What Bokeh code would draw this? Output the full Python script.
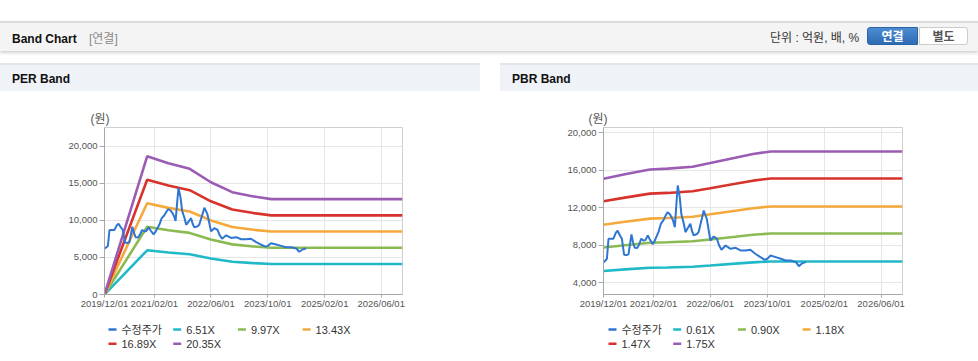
from datetime import datetime
from bokeh.plotting import figure
from bokeh.models import (FixedTicker, DatetimeTickFormatter, NumeralTickFormatter,
                          Title, Div, Range1d, Spacer)
from bokeh.core.properties import value
from bokeh.layouts import column, row
from bokeh.embed import file_html
from bokeh.resources import INLINE

# ---------------- data ----------------
X_TICK_LABELS = ["2019/12/01", "2021/02/01", "2022/06/01", "2023/10/01", "2025/02/01", "2026/06/01"]
X_START = "2019/12/01"
X_END = "2026/12/01"

PRICE_DATES = [
    "2019-12-02", "2019-12-16", "2019-12-30", "2020-01-13", "2020-01-27", "2020-02-24",
    "2020-03-16", "2020-03-30", "2020-04-20", "2020-05-06", "2020-05-25", "2020-06-15",
    "2020-07-02", "2020-07-27", "2020-08-10", "2020-08-24", "2020-09-14", "2020-09-28",
    "2020-10-19", "2020-11-09", "2020-11-23", "2020-12-14", "2020-12-28", "2021-01-25",
    "2021-02-08", "2021-03-01", "2021-03-15", "2021-04-05", "2021-04-26", "2021-05-17",
    "2021-06-01", "2021-06-21", "2021-07-05", "2021-07-19", "2021-08-02", "2021-08-16",
    "2021-08-27", "2021-09-13", "2021-09-27", "2021-10-18", "2021-11-01", "2021-11-15",
    "2021-12-13", "2021-12-27", "2022-01-10", "2022-02-07", "2022-02-21", "2022-03-14",
    "2022-04-06", "2022-05-02", "2022-05-16", "2022-06-02", "2022-07-01", "2022-07-28",
    "2022-08-15", "2022-09-05", "2022-10-10", "2022-11-21", "2023-01-04", "2023-02-15",
    "2023-03-29", "2023-05-10", "2023-06-21", "2023-08-04", "2023-09-11", "2023-10-02",
    "2023-10-30", "2023-12-13", "2024-01-25", "2024-03-07", "2024-04-19", "2024-06-03",
    "2024-06-28", "2024-07-29", "2024-08-26",
]
PRICE = [
    6200, 6350, 6560, 8700, 8690, 8700,
    9350, 9550, 9050, 8700, 7000, 6950,
    7050, 9150, 8300, 7730, 7700, 8000,
    8700, 8500, 8550, 9050, 8700, 8100,
    8400, 9000, 9400, 10300, 10650, 11200,
    11530, 11300, 11000, 10600, 9930, 12500,
    14380, 13130, 11300, 10290, 9400, 9700,
    10290, 9500, 9050, 9200, 9400, 10470,
    11710, 10830, 9800, 8510, 8940, 8700,
    8000, 7520, 7980, 7620, 7730, 7450,
    7450, 7520, 7100, 6740, 6450, 6560,
    6910, 6740, 6560, 6380, 6380, 6200,
    5770, 6100, 6200,
]

EPS_DATES = ["2019-12-01", "2020-12-01", "2021-06-01", "2021-12-01", "2022-06-01",
             "2022-12-01", "2023-06-01", "2023-11-01", "2026-12-01"]
EPS = [0, 916, 870, 833, 744, 678, 650, 632, 632]
PER_MULTIPLES = [6.51, 9.97, 13.43, 16.89, 20.35]
PER_LABELS = ["6.51X", "9.97X", "13.43X", "16.89X", "20.35X"]
PER_Y_TICKS = [0, 5000, 10000, 15000, 20000]
PER_Y_RANGE = (0, 22520)

BPS_DATES = ["2019-12-01", "2020-06-01", "2021-01-01", "2021-06-01", "2022-01-01",
             "2022-06-01", "2023-01-01", "2023-06-01", "2023-11-01", "2026-12-01"]
BPS = [8630, 8900, 9190, 9240, 9360, 9580, 9900, 10130, 10290, 10290]
PBR_MULTIPLES = [0.61, 0.90, 1.18, 1.47, 1.75]
PBR_LABELS = ["0.61X", "0.90X", "1.18X", "1.47X", "1.75X"]
PBR_Y_TICKS = [4000, 8000, 12000, 16000, 20000]
PBR_Y_RANGE = (2750, 20560)

PRICE_LABEL = "수정주가"
UNIT_LABEL = "(원)"
PRICE_COLOR = "#2f76d2"
BAND_COLORS = ["#20b9c8", "#8cba52", "#f6a93b", "#d7322b", "#9b5cb4"]

FONT = "Liberation Sans, Noto Sans CJK KR, sans-serif"
EPOCH = datetime(1970, 1, 1)

# legend layout (pixels inside the legend strip, measured from the panel's left edge)
LEG_NCOLS = 4
LEG_X0, LEG_PITCH_X = 108, 64.7
LEG_Y0, LEG_PITCH_Y = 15, 14.3
LEG_GLYPH_W, LEG_STANDOFF = 8, 5
STRIP_H = 47


def d(s):
    return datetime.strptime(s.replace("/", "-"), "%Y-%m-%d")


def ms(s):
    return (d(s) - EPOCH).total_seconds() * 1000.0


def make_chart(width, border_left, border_right, base_dates, base, multiples, labels,
               y_ticks, y_range, unit_off):
    title = Title(text=UNIT_LABEL, align="left", offset=unit_off, standoff=4,
                  text_font=FONT, text_font_size="12px", text_font_style="normal",
                  text_color="#555555")
    p = figure(width=width, height=270 - STRIP_H, x_axis_type="datetime",
               output_backend="svg", toolbar_location=None, title=title,
               x_range=Range1d(d(X_START), d(X_END)),
               y_range=Range1d(*y_range),
               min_border_left=border_left, min_border_right=border_right,
               min_border_top=36, min_border_bottom=20)
    p.background_fill_color = "white"
    p.border_fill_color = "white"
    p.outline_line_color = "#cfcfcf"
    p.outline_line_width = 1

    for ax in (p.xaxis, p.yaxis):
        ax.axis_line_color = "#a8a8a8"
        ax.major_tick_line_color = "#a8a8a8"
        ax.minor_tick_line_color = None
        ax.major_tick_in = 0
        ax.major_tick_out = 5
        ax.major_label_text_font = FONT
        ax.major_label_text_font_size = "9.5px"
        ax.major_label_text_color = "#555555"
        ax.major_label_standoff = 2
    p.xaxis.ticker = FixedTicker(ticks=[ms(t) for t in X_TICK_LABELS])
    fmt = "%Y/%m/%d"
    p.xaxis.formatter = DatetimeTickFormatter(
        microseconds=fmt, milliseconds=fmt, seconds=fmt, minsec=fmt, minutes=fmt,
        hourmin=fmt, hours=fmt, days=fmt, months=fmt, years=fmt)
    p.xaxis.major_tick_out = 3
    p.xaxis.major_label_standoff = 0
    p.yaxis.ticker = FixedTicker(ticks=y_ticks)
    p.yaxis.formatter = NumeralTickFormatter(format="0,0")

    p.xgrid.grid_line_color = "#e6e6e6"
    p.ygrid.grid_line_color = "#e6e6e6"

    xs = [d(s) for s in base_dates]
    for m, col in zip(multiples, BAND_COLORS):
        p.line(xs, [m * b for b in base], line_color=col, line_width=2.6)
    p.line([d(s) for s in PRICE_DATES], PRICE, line_color=PRICE_COLOR, line_width=2)

    # legend strip below the chart; its frame lines up with the chart frame,
    # so its x range is expressed in the panel's pixel coordinates
    lg = figure(width=width, height=STRIP_H, output_backend="svg", toolbar_location=None,
                x_range=Range1d(border_left, width - border_right),
                y_range=Range1d(STRIP_H, 0),
                x_axis_location=None, y_axis_location=None,
                min_border_left=border_left, min_border_right=border_right,
                min_border_top=0, min_border_bottom=0)
    lg.outline_line_color = None
    lg.xgrid.visible = False
    lg.ygrid.visible = False
    lg.background_fill_color = "white"
    lg.border_fill_color = "white"
    names = [PRICE_LABEL] + list(labels)
    colors = [PRICE_COLOR] + list(BAND_COLORS)
    gx = [LEG_X0 + (i % LEG_NCOLS) * LEG_PITCH_X for i in range(len(names))]
    gy = [LEG_Y0 + (i // LEG_NCOLS) * LEG_PITCH_Y for i in range(len(names))]
    lg.segment(x0=gx, y0=gy, x1=[x + LEG_GLYPH_W for x in gx], y1=gy,
               line_color=colors, line_width=2.5)
    lg.text(x=[x + LEG_GLYPH_W + LEG_STANDOFF for x in gx], y=gy, text=names,
            text_font=value(FONT), text_font_size="11px", text_color="#333333",
            text_baseline="middle", text_align="left")
    return column(p, lg, spacing=0)


per = make_chart(480, 104, 78, EPS_DATES, EPS, PER_MULTIPLES, PER_LABELS,
                 PER_Y_TICKS, PER_Y_RANGE, -14)
pbr = make_chart(478, 103, 76, BPS_DATES, BPS, PBR_MULTIPLES, PBR_LABELS,
                 PBR_Y_TICKS, PBR_Y_RANGE, -15)

FF = "font-family:'Liberation Sans','Noto Sans CJK KR',sans-serif;"
top_html = (
    f'<div style="position:relative;width:978px;height:63px;overflow:hidden;{FF}">'
    '<div style="position:absolute;left:0;top:21px;width:978px;height:30px;background:#f4f4f4;'
    'border-top:2px solid #dcdcdc;box-shadow:0 2px 3px rgba(0,0,0,0.18);"></div>'
    '<div style="position:absolute;left:12px;top:31px;font-size:12px;font-weight:bold;color:#111;">Band Chart</div>'
    '<div style="position:absolute;left:89px;top:31px;font-size:12px;color:#8a8a8a;">[연결]</div>'
    '<div style="position:absolute;left:770px;top:30px;font-size:12px;color:#333;">단위 : 억원, 배, %</div>'
    '<div style="position:absolute;left:867px;top:27px;width:51px;height:18px;'
    'background:linear-gradient(#4c8cd2,#2d6bb3);border:1px solid #2a62a5;border-radius:3px 0 0 3px;'
    'color:#fff;font-size:12px;font-weight:bold;text-align:center;line-height:18px;">연결</div>'
    '<div style="position:absolute;left:919px;top:27px;width:49px;height:18px;background:#fff;'
    'border:1px solid #cccccc;border-radius:0 3px 3px 0;color:#555;font-size:12px;font-weight:bold;'
    'text-align:center;line-height:18px;">별도</div>'
    '</div>'
)


def panel_head(title, w):
    return (
        f'<div style="position:relative;width:{w}px;height:28px;background:#eff2f7;'
        f'border-top:2px solid #e1e4e9;box-sizing:border-box;{FF}">'
        f'<div style="position:absolute;left:12px;top:6px;font-size:12px;font-weight:bold;color:#111;">{title}</div>'
        '</div>'
    )


top = Div(text=top_html, width=978, height=63, margin=0)
per_head = Div(text=panel_head("PER Band", 480), width=480, height=28, margin=0)
pbr_head = Div(text=panel_head("PBR Band", 478), width=478, height=28, margin=0)

layout = column(
    top,
    row(column(per_head, per, spacing=0), Spacer(width=20, height=298, margin=0),
        column(pbr_head, pbr, spacing=0), spacing=0),
    spacing=0,
)

open("out.html", "w").write(file_html(layout, INLINE))
